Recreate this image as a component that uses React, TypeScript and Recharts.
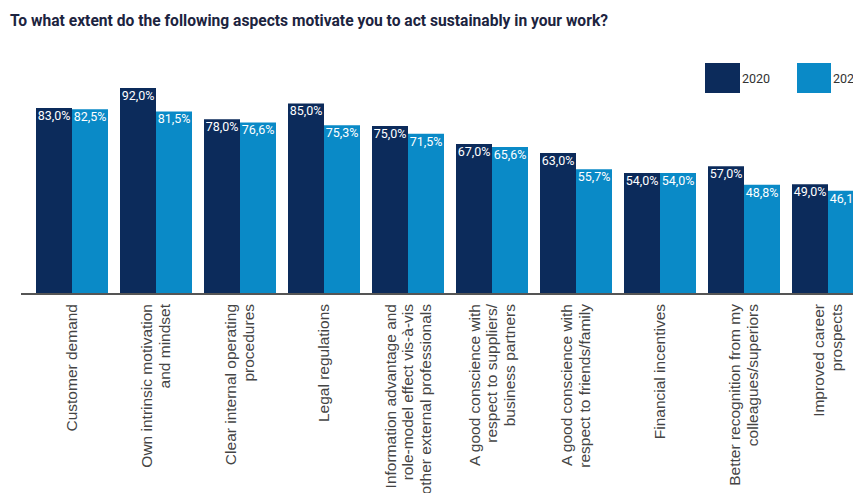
import React from 'react';
import { BarChart, Bar, XAxis, YAxis, LabelList } from 'recharts';

const categories = [
  'Customer demand',
  'Own intrinsic motivation\nand mindset',
  'Clear internal operating\nprocedures',
  'Legal regulations',
  'Information advantage and\nrole-model effect vis-à-vis\nother external professionals',
  'A good conscience with\nrespect to suppliers/\nbusiness partners',
  'A good conscience with\nrespect to friends/family',
  'Financial incentives',
  'Better recognition from my\ncolleagues/superiors',
  'Improved career\nprospects',
];
const values2020 = [83.0, 92.0, 78.0, 85.0, 75.0, 67.0, 63.0, 54.0, 57.0, 49.0];
const values2022 = [82.5, 81.5, 76.6, 75.3, 71.5, 65.6, 55.7, 54.0, 48.8, 46.1];
const seriesNames = ['2020', '2022'];

const DARK = '#0c2b5b';
const LIGHT = '#0a8ac7';

const data = categories.map((name, i) => ({
  name,
  y2020: values2020[i],
  y2022: values2022[i],
}));

const fmt = (v: any) => `${Number(v).toFixed(1).replace('.', ',')}%`;

const CategoryTick = (props: any) => {
  const { x, y, payload } = props;
  const lines: string[] = String(payload.value).split('\n');
  const lh = 17.5;
  const n = lines.length;
  return (
    <g transform={`translate(${x},${y + 2})`}>
      <text
        transform="rotate(-90)"
        textAnchor="end"
        fontFamily="'Liberation Sans', Arial, sans-serif"
        fontSize={15.5}
        fill="#444"
      >
        {lines.map((l, i) => (
          <tspan key={i} x={0} y={(i - (n - 1) / 2) * lh + 5}>
            {l}
          </tspan>
        ))}
      </text>
    </g>
  );
};

export default function App() {
  return (
    <div style={{ position: 'relative', width: 853, height: 485, overflow: 'hidden', background: '#fff' }}>
      <svg width={853} height={30} style={{ position: 'absolute', left: 0, top: 0 }}>
        <text
          x={2}
          y={18}
          textLength={598}
          lengthAdjust="spacingAndGlyphs"
          fontFamily="Roboto, sans-serif"
          fontWeight={700}
          fontSize={16.5}
          fill="#1c2440"
        >
          To what extent do the following aspects motivate you to act sustainably in your work?
        </text>
      </svg>

      {/* legend sits at the cropped right edge, like the source */}
      <div style={{ position: 'absolute', left: 697, top: 55, display: 'flex', alignItems: 'center', fontFamily: 'Roboto, sans-serif', fontSize: 12.5, color: '#333', zIndex: 2 }}>
        <div style={{ width: 35, height: 30, background: DARK }} />
        <span style={{ marginLeft: 2, width: 55 }}>{seriesNames[0]}</span>
        <div style={{ width: 34, height: 30, background: LIGHT }} />
        <span style={{ marginLeft: 2 }}>{seriesNames[1]}</span>
      </div>

      <div style={{ position: 'absolute', left: 0, top: 0 }}>
        <BarChart
          width={876}
          height={485}
          data={data}
          margin={{ top: 62, right: 5, bottom: 0, left: 13 }}
          barGap={0}
          barSize={36}
        >
          <XAxis
            dataKey="name"
            interval={0}
            height={199}
            padding={{ left: 9, right: 9 }}
            axisLine={{ stroke: '#555', strokeWidth: 2 }}
            tickLine={false}
            tick={<CategoryTick />}
          />
          <YAxis hide domain={[0, 100]} />
          <Bar dataKey="y2020" name={seriesNames[0]} fill={DARK} isAnimationActive={false}>
            <LabelList
              dataKey="y2020"
              position="insideTop"
              offset={3}
              formatter={fmt}
              fill="#ffffff"
              fontSize={12.5}
              fontFamily="Roboto, sans-serif"
            />
          </Bar>
          <Bar dataKey="y2022" name={seriesNames[1]} fill={LIGHT} isAnimationActive={false}>
            <LabelList
              dataKey="y2022"
              position="insideTop"
              offset={3}
              formatter={fmt}
              fill="#ffffff"
              fontSize={12.5}
              fontFamily="Roboto, sans-serif"
            />
          </Bar>
        </BarChart>
      </div>
    </div>
  );
}
